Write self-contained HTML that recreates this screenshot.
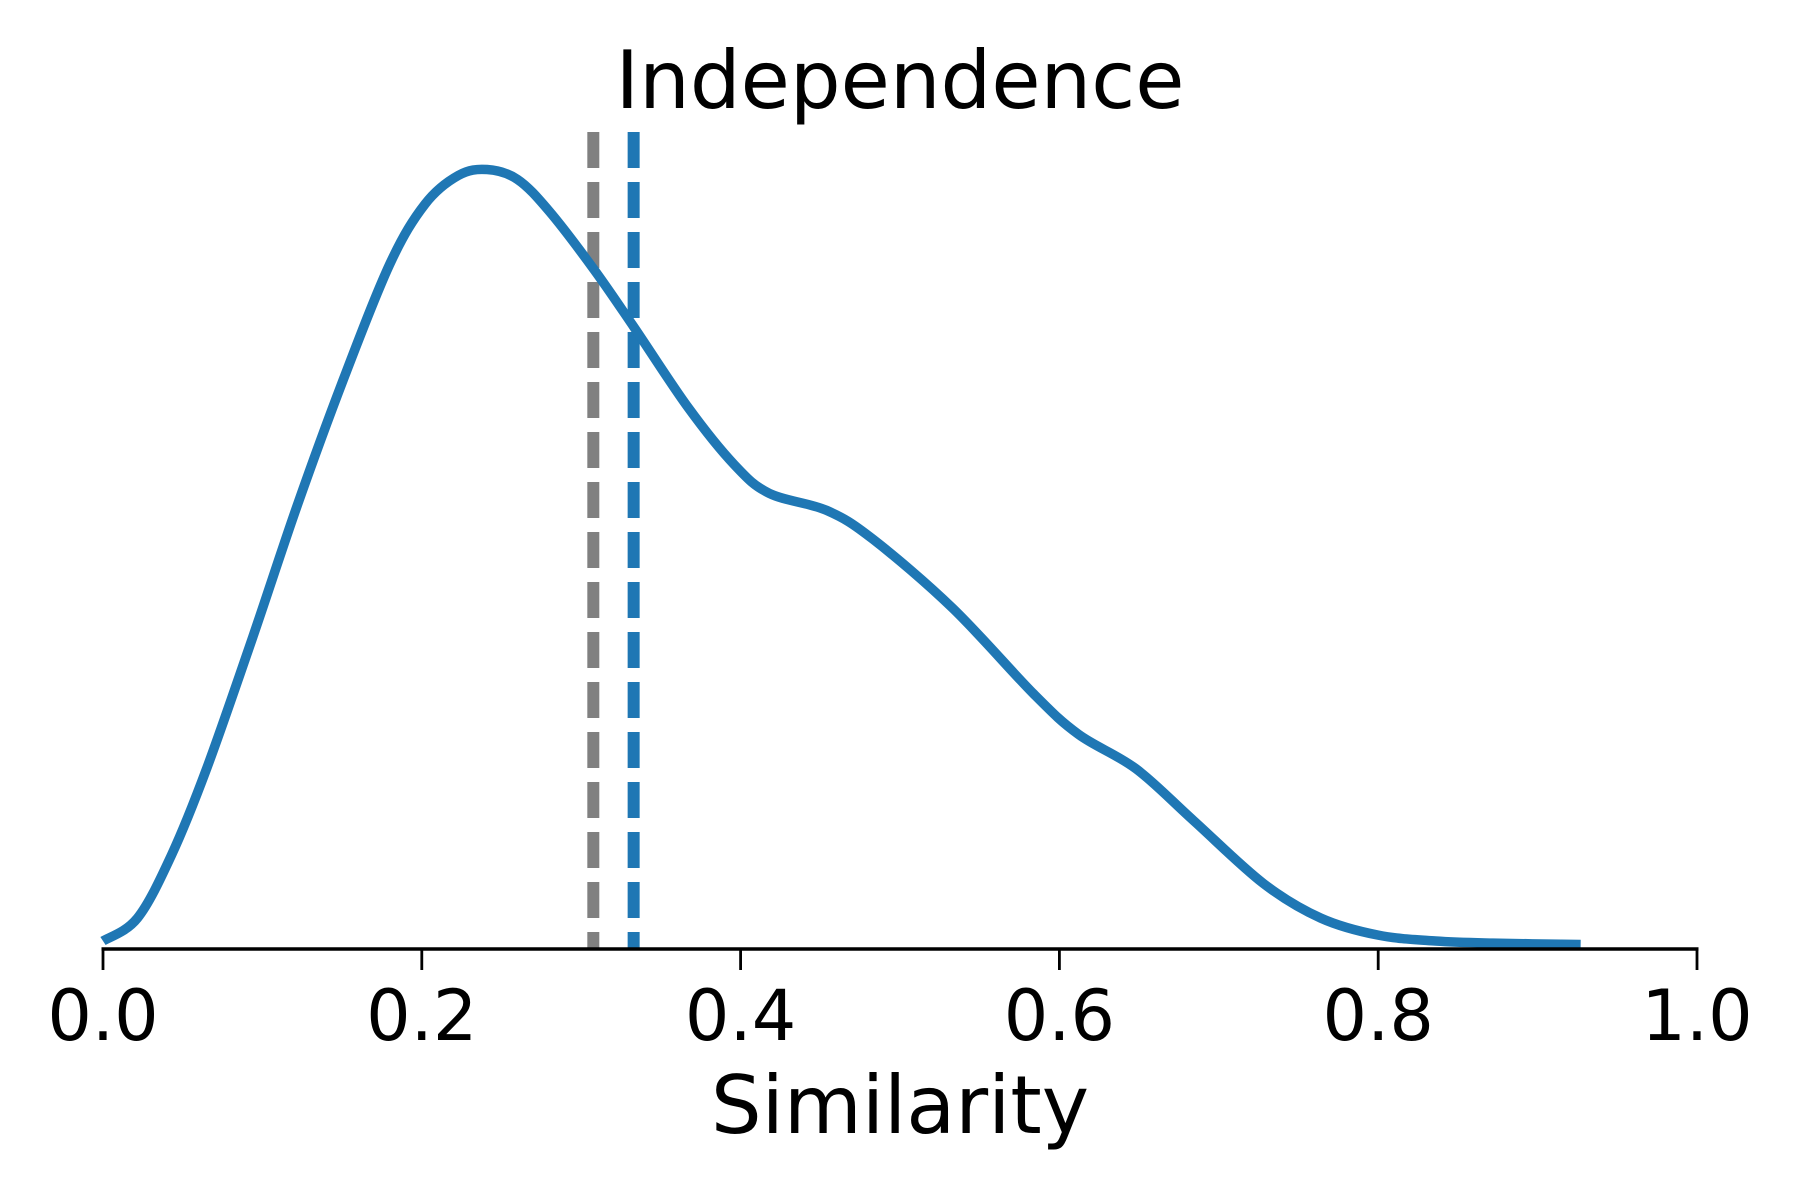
<!DOCTYPE html>
<html><head><meta charset="utf-8"><style>
html,body{margin:0;padding:0;background:#fff;}
svg{display:block;font-family:"DejaVu Sans","Liberation Sans",sans-serif;}
</style></head><body>
<svg id="chart" width="1800" height="1200" viewBox="0 0 1800 1200" xmlns="http://www.w3.org/2000/svg">
<text x="900" y="108" font-size="80" text-anchor="middle">Independence</text>
<g id="marks"></g>
<g id="axis"></g>
<text x="900" y="1133" font-size="80" text-anchor="middle">Similarity</text>
</svg>
<script>
const xs=[0,0.0216,0.043,0.065,0.094,0.122,0.151,0.18,0.202,0.223,0.241,0.26,0.28,0.308,0.333,0.367,0.396,0.418,0.454,0.483,0.533,0.584,0.612,0.648,0.684,0.728,0.764,0.8,0.836,0.872,0.927];
const densities=[0.03,0.116,0.353,0.677,1.172,1.668,2.142,2.573,2.797,2.905,2.927,2.89,2.77,2.552,2.336,2.034,1.819,1.711,1.647,1.539,1.28,0.957,0.806,0.677,0.483,0.246,0.116,0.052,0.03,0.022,0.017];
const tickValues=[0,0.2,0.4,0.6,0.8,1.0];
const tickLabels=["0.0","0.2","0.4","0.6","0.8","1.0"];
const meanLines=[0.3076,0.3329];
const meanNames=["baseline-mean-line","mean-line"];
const meanColors=["#808080","#1f77b4"];
const X=v=>103+v*(1697-103);
const Y=d=>949-d*266.3;
const NS="http://www.w3.org/2000/svg";
const marks=document.getElementById('marks'), axis=document.getElementById('axis');
function mk(tag,attrs,parent){const e=document.createElementNS(NS,tag);for(const k in attrs)e.setAttribute(k,attrs[k]);parent.appendChild(e);return e;}
meanLines.forEach((m,i)=>{
 const l=mk('line',{x1:X(m),x2:X(m),y1:132,y2:949,stroke:meanColors[i],'stroke-width':12,'stroke-dasharray':'36 14'},marks);
 
 
});
const pts=xs.map((x,i)=>[X(x),Y(densities[i])]);
let d=`M${pts[0][0]},${pts[0][1]}`;
for(let i=0;i<pts.length-1;i++){
 const p0=pts[Math.max(0,i-1)],p1=pts[i],p2=pts[i+1],p3=pts[Math.min(pts.length-1,i+2)];
 const c1=[p1[0]+(p2[0]-p0[0])/6,p1[1]+(p2[1]-p0[1])/6];
 const c2=[p2[0]-(p3[0]-p1[0])/6,p2[1]-(p3[1]-p1[1])/6];
 d+=` C${c1[0]},${c1[1]} ${c2[0]},${c2[1]} ${p2[0]},${p2[1]}`;
}
const path=mk('path',{d:d,fill:'none',stroke:'#1f77b4','stroke-width':9.5,'stroke-linejoin':'round'},marks);


const al=mk('line',{x1:X(0)-1.5,x2:X(1)+1.5,y1:949,y2:949,stroke:'#000','stroke-width':3.5},axis);


tickValues.forEach((v,i)=>{
 const t=mk('line',{x1:X(v),x2:X(v),y1:949,y2:970,stroke:'#000','stroke-width':2.8},axis);
 
 
 const tx=mk('text',{x:X(v),y:1040,'font-size':70,'text-anchor':'middle'},axis);
 tx.textContent=tickLabels[i];
 
 
});
</script>
</body></html>
